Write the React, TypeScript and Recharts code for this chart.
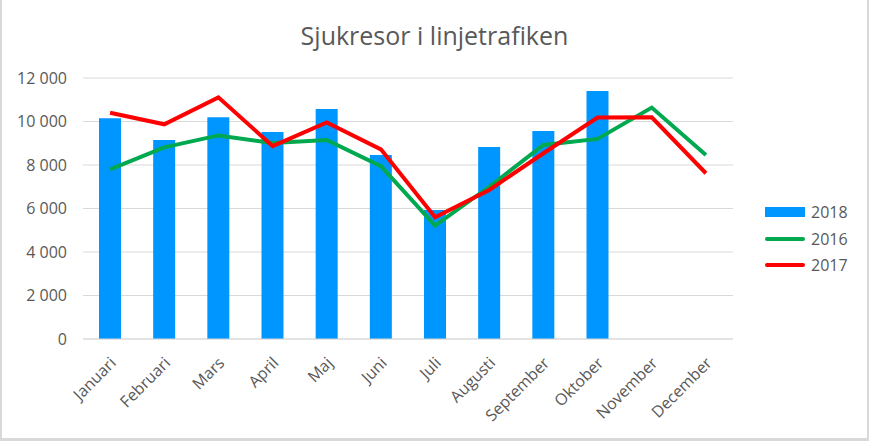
import React from "react";
import {
  ComposedChart,
  Bar,
  Line,
  XAxis,
  YAxis,
  CartesianGrid,
  Legend,
} from "recharts";

const months = [
  "Januari",
  "Februari",
  "Mars",
  "April",
  "Maj",
  "Juni",
  "Juli",
  "Augusti",
  "September",
  "Oktober",
  "November",
  "December",
];

const trips2018 = [10150, 9150, 10200, 9520, 10580, 8460, 5930, 8830, 9560, 11400, null, null];
const trips2016 = [7800, 8810, 9360, 9010, 9150, 7950, 5210, 7000, 8920, 9200, 10640, 8460];
const trips2017 = [10400, 9870, 11110, 8870, 9960, 8720, 5600, 6850, 8540, 10180, 10190, 7620];

const yTicks = [0, 2000, 4000, 6000, 8000, 10000, 12000];

const data = months.map((m, i) => ({
  month: m,
  y2018: trips2018[i],
  y2016: trips2016[i],
  y2017: trips2017[i],
}));

const BLUE = "#0096ff";
const GREEN = "#00a84f";
const RED = "#ff0000";
const TEXT = "#595959";
const FONT = "'Open Sans', sans-serif";

const fmt = (v: number) => v.toLocaleString("en-US").replace(/,/g, " ");

function MonthTick({ x, y, payload }: any) {
  const ax = x + 7;
  const ay = y + 17;
  return (
    <text
      x={ax}
      y={ay}
      textAnchor="end"
      transform={`rotate(-45, ${ax}, ${ay})`}
      fill={TEXT}
      fontSize={16}
      fontFamily={FONT}
    >
      {payload.value}
    </text>
  );
}

function LegendBox() {
  const items = [
    { label: "2018", color: BLUE, bar: true },
    { label: "2016", color: GREEN, bar: false },
    { label: "2017", color: RED, bar: false },
  ];
  return (
    <div style={{ width: 100, fontFamily: FONT, fontSize: 16, color: TEXT }}>
      {items.map((it) => (
        <div key={it.label} style={{ display: "flex", alignItems: "center", height: 26.5 }}>
          <div
            style={{
              width: 40,
              height: it.bar ? 10 : 4,
              borderRadius: it.bar ? 0 : 2,
              background: it.color,
              marginRight: 6,
            }}
          />
          <span>{it.label}</span>
        </div>
      ))}
    </div>
  );
}

export default function App() {
  return (
    <div style={{ position: "relative", width: 869, height: 441, background: "#fff" }}>
      <style>{`body{margin:0}`}</style>
      <div
        style={{
          position: "absolute",
          top: 23,
          left: 0,
          width: 869,
          textAlign: "center",
          fontFamily: FONT,
          fontSize: 25,
          lineHeight: "25px",
          color: TEXT,
        }}
      >
        Sjukresor i linjetrafiken
      </div>
      <ComposedChart
        width={869}
        height={441}
        data={data}
        margin={{ top: 78, right: 36, bottom: 22, left: 0 }}
      >
        <CartesianGrid vertical={false} stroke="#d9d9d9" />
        <XAxis
          dataKey="month"
          interval={0}
          height={80}
          tickLine={false}
          axisLine={{ stroke: "#d9d9d9" }}
          tick={<MonthTick />}
        />
        <YAxis
          width={83}
          domain={[0, 12000]}
          ticks={yTicks}
          tickFormatter={fmt}
          tickLine={false}
          axisLine={false}
          tickMargin={10}
          tick={{ fill: TEXT, fontSize: 16, fontFamily: FONT }}
        />
        <Legend
          layout="vertical"
          align="right"
          verticalAlign="middle"
          content={<LegendBox />}
          wrapperStyle={{ left: 765, top: 199, right: "auto" }}
        />
        <Bar dataKey="y2018" name="2018" fill={BLUE} barSize={22} isAnimationActive={false} />
        <Line
          dataKey="y2016"
          name="2016"
          type="linear"
          stroke={GREEN}
          strokeWidth={4}
          dot={false}
          isAnimationActive={false}
        />
        <Line
          dataKey="y2017"
          name="2017"
          type="linear"
          stroke={RED}
          strokeWidth={4}
          dot={false}
          isAnimationActive={false}
        />
      </ComposedChart>
      <div
        style={{
          position: "absolute",
          inset: 0,
          borderLeft: "2px solid #d9d9d9",
          borderRight: "2px solid #d9d9d9",
          borderBottom: "3px solid #d9d9d9",
          pointerEvents: "none",
        }}
      />
    </div>
  );
}
